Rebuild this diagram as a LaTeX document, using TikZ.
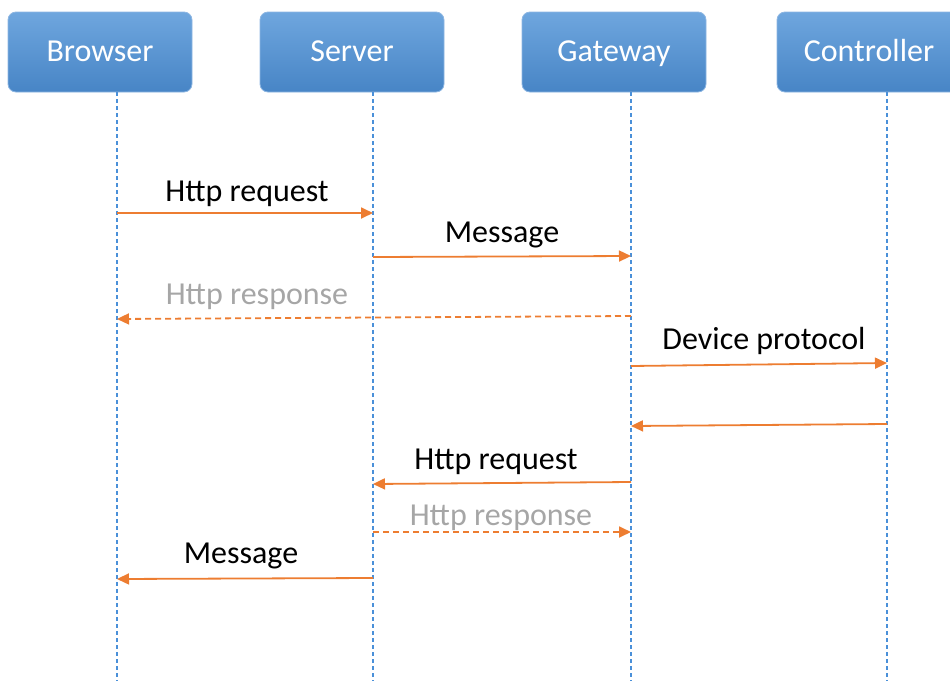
\documentclass[tikz,border=0pt]{standalone}
\usepackage{fontspec}
\setmainfont{Carlito}
\usepackage{xcolor}
\usepackage{tikz}
\usetikzlibrary{arrows.meta, positioning}
\definecolor{headtop}{HTML}{6FA6DE}
\definecolor{headbot}{HTML}{4785C6}
\definecolor{headedge}{HTML}{8DB6E2}
\definecolor{lifeblue}{HTML}{4A90D9}
\definecolor{msgorange}{HTML}{ED7D31}
\definecolor{replygrey}{HTML}{A6A6A6}
\tikzset{
    headnode/.style = {draw=headedge, rectangle, rounded corners=4pt, top color=headtop, 
      bottom color=headbot, text=white, minimum width=92pt, minimum height=40pt, 
      inner sep=0pt, text height=0.95em, text depth=0.05em, font=\fontsize{16}{19}\selectfont},
    lifeline/.style = {lifeblue, line width=0.6pt, dash pattern=on 2pt off 1.5pt},
    msg/.style = {msgorange, line width=0.9pt, -{Triangle[length=6pt,width=5.5pt]}},
    reply/.style = {msg, dash pattern=on 3pt off 2pt},
    textnode/.style = {draw=none, fill=none, rectangle, inner sep=0pt, anchor=base, 
      font=\fontsize{16}{19}\selectfont},
    greytextnode/.style = {textnode, text=replygrey}
}

\begin{document}
\begin{tikzpicture}[x=0.5pt, y=-0.5pt]
    \clip (0,0) rectangle (950,681);

    \node [name=browser, headnode] at (100,52) {Browser}; 
    \node [name=server, headnode] at (352,52) {Server}; 
    \node [name=gateway, headnode] at (614,52) {Gateway}; 
    \node [name=controller, headnode] at (869,52) {Controller}; 

    % lifelines
    \coordinate (browserline) at (117,92); 
    \coordinate (serverline) at (373,92); 
    \coordinate (gatewayline) at (631,92); 
    \coordinate (controllerline) at (887,92); 

    \draw [lifeline] (browserline) -- (browserline |- 0,681); 
    \draw [lifeline] (serverline) -- (serverline |- 0,681); 
    \draw [lifeline] (gatewayline) -- (gatewayline |- 0,681); 
    \draw [lifeline] (controllerline) -- (controllerline |- 0,681); 

    % messages
    \draw [msg] (browserline |- 0,213) -- (serverline |- 0,213); 
    \node [name=req1, textnode] at (247,201) {Http request}; 

    \draw [msg] (serverline |- 0,257) -- (gatewayline |- 0,256); 
    \node [name=msg1, textnode] at (502,242) {Message}; 

    \draw [reply] (gatewayline |- 0,316) -- (browserline |- 0,319); 
    \node [name=resp1, greytextnode] at (257,304) {Http response}; 

    \draw [msg] (gatewayline |- 0,366) -- (controllerline |- 0,363); 
    \node [name=dev, textnode] at (764,349) {Device protocol}; 

    \draw [msg] (controllerline |- 0,424) -- (gatewayline |- 0,426); 

    \draw [msg] (gatewayline |- 0,482) -- (serverline |- 0,484); 
    \node [name=req2, textnode] at (496,469) {Http request}; 

    \draw [reply] (serverline |- 0,532) -- (gatewayline |- 0,532); 
    \node [name=resp2, greytextnode] at (501,525) {Http response}; 

    \draw [msg] (serverline |- 0,578) -- (browserline |- 0,579); 
    \node [name=msg2, textnode] at (241,563) {Message}; 
\end{tikzpicture}
\end{document}
